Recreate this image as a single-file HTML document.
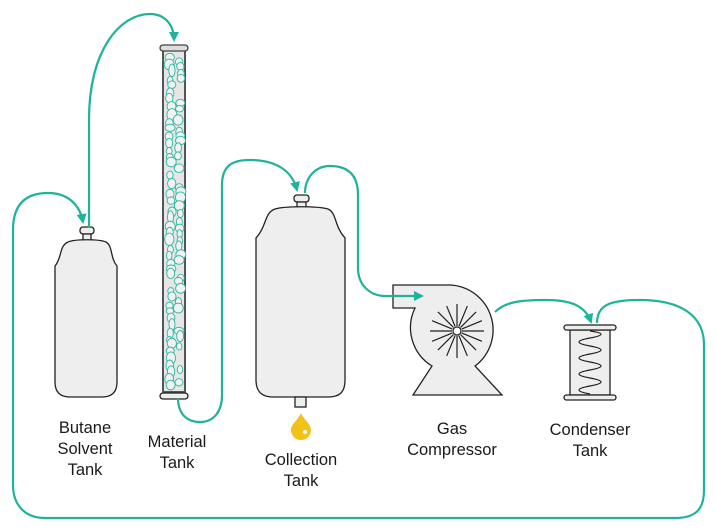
<!DOCTYPE html>
<html><head><meta charset="utf-8"><style>
html,body{margin:0;padding:0;background:#fff}
svg{display:block}
text{font-family:"Liberation Sans",sans-serif;font-size:16.5px;fill:#1a1a1a;text-anchor:middle}
</style></head><body>
<svg id="s" width="716" height="531" viewBox="0 0 716 531" xmlns="http://www.w3.org/2000/svg">
<defs>
<marker id="ar" viewBox="0 0 10 10" markerWidth="10" markerHeight="10" refX="8" refY="5" orient="auto" markerUnits="userSpaceOnUse"><path d="M0,0 L10,5 L0,10 Z" fill="#1fb39a"/></marker></defs>
<g stroke="#222" stroke-width="1.3" fill="#eeeeee">
<!-- butane -->
<rect x="80" y="227" width="14" height="7" rx="3"/>
<rect x="83" y="234" width="8" height="7"/>
<path d="M68,242 C75,239 99,239 106,242 C113,246 110,258 117,266 L117,382 C117,392 112,397 102,397 L70,397 C60,397 55,392 55,382 L55,266 C62,258 59,246 68,242 Z"/>
<!-- material -->
<rect x="163" y="50" width="22" height="342" fill="#e6e6e6" stroke="#555" stroke-width="2"/>
<rect x="160" y="45" width="28" height="6" rx="3" fill="#ddd" stroke="#444"/>
<rect x="160" y="393" width="28" height="6" rx="3"/>
<!-- collection -->
<rect x="294" y="195" width="15" height="7" rx="3"/>
<rect x="297" y="202" width="9" height="6"/>
<path d="M275,209 C285,206 318,206 328,209 C337,213 334,226 345,238 L345,380 C345,392 340,397 328,397 L273,397 C262,397 256,392 256,380 L256,238 C267,226 264,213 275,209 Z"/>
<rect x="295" y="397" width="11" height="10"/>
<!-- compressor -->
<path d="M393,285 L450,285 A45,45 0 0 1 475,366 L502,395 L413,395 L432,366 A45,45 0 0 1 415,308 L393,308 Z"/>
<!-- condenser -->
<rect x="570" y="330" width="40" height="65"/>
<rect x="564" y="325" width="52" height="5" rx="2.5"/>
<rect x="564" y="395" width="52" height="5" rx="2.5"/>
</g>
<g stroke="#222" stroke-width="1.2" fill="none" id="star"></g>
<circle cx="457" cy="331" r="4" fill="#fff" stroke="#222" stroke-width="1.2"/>
<path d="M590,331 Q612,334 590,338 Q568,342 590,346 Q612,350 590,354 Q568,358 590,362 Q612,366 590,370 Q568,374 590,378 Q612,382 590,386 Q568,390 590,394" fill="none" stroke="#222" stroke-width="1.2"/>
<g id="bub" fill="#f2f2f2" stroke="#2bb7a0" stroke-width="0.9"></g>
<g fill="none" stroke="#1fb39a" stroke-width="2.2">
<path d="M597,323 C597,305 610,300 640,300 C680,300 704,315 704,345 L704,490 C704,510 695,518 675,518 L45,518 C25,518 13,505 13,485 L13,230 C13,205 25,193 48,193 C68,193 80,205 83,222" marker-end="url(#ar)"/>
<path d="M89,228 L89,120 C89,50 120,14 150,14 C165,14 174,25 174,40" marker-end="url(#ar)"/>
<path d="M178,398 C178,415 188,422 200,422 C215,422 222,410 222,395 L222,185 C222,165 233,160 250,160 C275,160 292,170 297,190" marker-end="url(#ar)"/>
<path d="M305,193 C305,178 315,166 330,166 C348,166 358,175 358,195 L358,268 C358,285 370,296 385,296 L422,296" marker-end="url(#ar)"/>
<path d="M495,312 C505,302 520,300 545,300 C570,300 585,305 591,322" marker-end="url(#ar)"/>
</g>
<path d="M301,413 C298,420 291,424 291,430 A10,10 0 0 0 311,430 C311,424 304,420 301,413 Z" fill="#f2c21b"/>
<circle cx="305" cy="432" r="2" fill="#fff"/>
<text x="85" y="433">Butane</text><text x="85" y="454">Solvent</text><text x="85" y="475">Tank</text>
<text x="177" y="447">Material</text><text x="177" y="468">Tank</text>
<text x="301" y="465">Collection</text><text x="301" y="486">Tank</text>
<text x="452" y="434">Gas</text><text x="452" y="455">Compressor</text>
<text x="590" y="435">Condenser</text><text x="590" y="456">Tank</text>
</svg>
<script>
var ns="http://www.w3.org/2000/svg";
var st=document.getElementById("star");
for(var i=0;i<16;i++){var a=i*Math.PI/8;var l=document.createElementNS(ns,"line");
l.setAttribute("x1",457+5*Math.cos(a));l.setAttribute("y1",331+5*Math.sin(a));
l.setAttribute("x2",457+27*Math.cos(a));l.setAttribute("y2",331+27*Math.sin(a));st.appendChild(l);}
var b=document.getElementById("bub");var seed=7;function r(){seed=(seed*9301+49297)%233280;return seed/233280;}
for(var y=56;y<388;y+=7){var e=document.createElementNS(ns,"ellipse");var left=r()<0.5;
var rx=3+r()*3,ry=3.5+r()*3;e.setAttribute("cx",(left?169:178)+r()*3);e.setAttribute("cy",y+r()*3);
e.setAttribute("rx",Math.min(rx,5));e.setAttribute("ry",ry);b.appendChild(e);
if(r()<0.6){var e2=document.createElementNS(ns,"ellipse");e2.setAttribute("cx",(left?179:169)+r()*2);e2.setAttribute("cy",y+3+r()*3);e2.setAttribute("rx",2.5+r()*2);e2.setAttribute("ry",3+r()*2);b.appendChild(e2);}}
</script>
</body></html>
